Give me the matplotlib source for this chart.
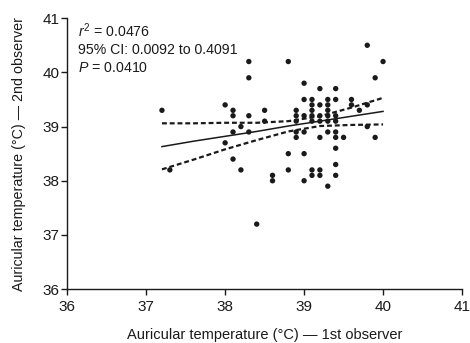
import matplotlib
matplotlib.use('Agg')
import matplotlib.pyplot as plt
import numpy as np

plt.rcParams['font.family'] = ['Liberation Sans', 'DejaVu Sans']
plt.rcParams['mathtext.fontset'] = 'custom'
plt.rcParams['mathtext.rm'] = 'Liberation Sans'
plt.rcParams['mathtext.it'] = 'Liberation Sans:italic'

# observer 1 vs observer 2
obs1 = [37.2, 37.3,
        38.0, 38.0,
        38.1, 38.1, 38.1, 38.1,
        38.2, 38.2,
        38.3, 38.3, 38.3, 38.3,
        38.4,
        38.5, 38.5,
        38.6, 38.6,
        38.8, 38.8, 38.8,
        38.9, 38.9, 38.9, 38.9, 38.9,
        39.0, 39.0, 39.0, 39.0, 39.0, 39.0,
        39.1, 39.1, 39.1, 39.1, 39.1, 39.1, 39.1,
        39.2, 39.2, 39.2, 39.2, 39.2, 39.2, 39.2,
        39.3, 39.3, 39.3, 39.3, 39.3, 39.3, 39.3,
        39.4, 39.4, 39.4, 39.4, 39.4, 39.4, 39.4, 39.4, 39.4,
        39.5,
        39.6, 39.6,
        39.7,
        39.8, 39.8, 39.8,
        39.9, 39.9,
        40.0]
obs2 = [39.3, 38.2,
        39.4, 38.7,
        39.3, 39.2, 38.9, 38.4,
        39.0, 38.2,
        40.2, 39.9, 39.2, 38.9,
        37.2,
        39.3, 39.1,
        38.1, 38.0,
        40.2, 38.5, 38.2,
        39.3, 39.2, 39.1, 38.9, 38.8,
        39.8, 39.5, 39.2, 38.9, 38.5, 38.0,
        39.5, 39.4, 39.3, 39.2, 39.1, 38.2, 38.1,
        39.7, 39.4, 39.2, 39.1, 38.8, 38.2, 38.1,
        39.5, 39.4, 39.3, 39.2, 39.1, 38.9, 37.9,
        39.7, 39.5, 39.2, 39.1, 38.9, 38.8, 38.6, 38.3, 38.1,
        38.8,
        39.5, 39.4,
        39.3,
        40.5, 39.4, 39.0,
        39.9, 38.8,
        40.2]

# regression line and 95% band, read at a few x positions
fit_x = [37.2, 37.6, 38.0, 38.4, 38.8, 39.2, 39.6, 40.0]
fit_y = [38.63, 38.73, 38.82, 38.91, 39.01, 39.10, 39.19, 39.28]
band_hi = [39.06, 39.06, 39.07, 39.07, 39.10, 39.19, 39.35, 39.53]
band_lo = [38.21, 38.39, 38.58, 38.75, 38.91, 39.01, 39.03, 39.04]

fig = plt.figure(figsize=(4.7, 3.43), dpi=100)
ax = fig.add_axes([0.143, 0.157, 0.84, 0.79])

ink = '#1a1a1a'
ax.scatter(obs1, obs2, s=15, color=ink, edgecolors='none', zorder=3)
ax.plot(fit_x, fit_y, color=ink, lw=1.1)
ax.plot(fit_x, band_hi, color=ink, lw=1.6, ls=(0, (2.2, 1.3)))
ax.plot(fit_x, band_lo, color=ink, lw=1.6, ls=(0, (2.2, 1.3)))

ax.set_xlim(36, 41)
ax.set_ylim(36, 41)
ax.set_xticks([36, 37, 38, 39, 40, 41])
ax.set_yticks([36, 37, 38, 39, 40, 41])
for s in ['top', 'right']:
    ax.spines[s].set_visible(False)
for s in ['left', 'bottom']:
    ax.spines[s].set_linewidth(1.0)
    ax.spines[s].set_color(ink)
ax.tick_params(direction='out', length=4, width=1.0, labelsize=11, colors=ink)
ax.tick_params(axis='x', pad=4)
ax.tick_params(axis='y', pad=1.5)

ax.set_xlabel('Auricular temperature (°C) — 1st observer', fontsize=10.5,
              color=ink, labelpad=10)
ax.set_ylabel('Auricular temperature (°C) — 2nd observer', fontsize=10.3,
              color=ink)
ax.yaxis.set_label_coords(-0.105, 0.5)

ax.text(0.028, 0.988, '$r^2$ = 0.0476\n95% CI: 0.0092 to 0.4091\n$P$ = 0.0410',
        transform=ax.transAxes, va='top', ha='left', fontsize=10.2,
        color=ink, linespacing=1.3)

fig.savefig('out.png', dpi=100)
